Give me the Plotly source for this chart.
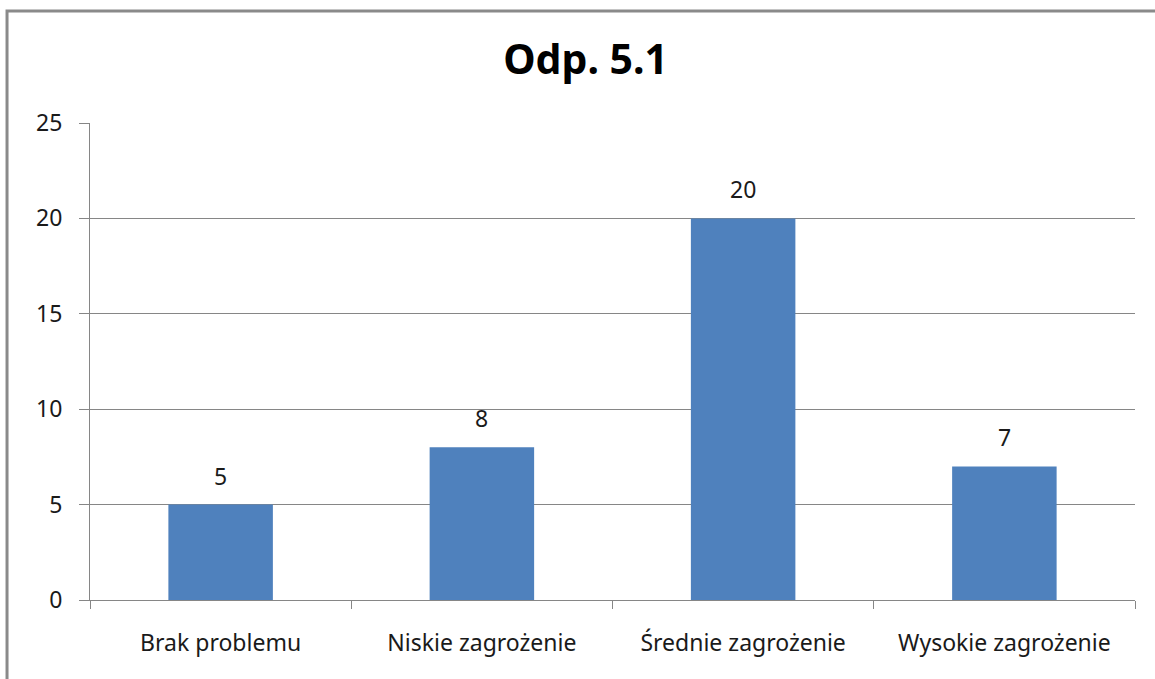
import plotly.graph_objects as go

categories = ["Brak problemu", "Niskie zagrożenie", "Średnie zagrożenie", "Wysokie zagrożenie"]
values = [5, 8, 20, 7]
y_ticks = [0, 5, 10, 15, 20, 25]

fig = go.Figure()
fig.add_trace(go.Bar(
    x=categories,
    y=values,
    marker=dict(color="#4F81BD", line=dict(width=0)),
    hoverinfo="x+y",
))

# value labels above bars
for cat, val in zip(categories, values):
    fig.add_annotation(
        x=cat, y=val, text=str(val),
        showarrow=False, yanchor="bottom", yshift=11,
        font=dict(size=23, color="#1a1a1a"),
    )

# chart frame (left and top edges only are visible)
fig.add_shape(
    type="path",
    xref="paper", yref="paper",
    path="M -0.0794 -0.2 L -0.0794 1.2348 L 1.05 1.2348",
    line=dict(color="#8a8a8a", width=3),
)

fig.update_layout(
    width=1155,
    height=679,
    margin=dict(l=90, r=20, t=123, b=79),
    paper_bgcolor="white",
    plot_bgcolor="white",
    font=dict(family="Noto Sans", size=23, color="#1a1a1a"),
    title=dict(
        text="<b>Odp. 5.1</b>",
        x=0.507, xanchor="center",
        y=0.912, yanchor="middle",
        font=dict(size=41, color="black"),
    ),
    bargap=0.6,
    showlegend=False,
)
fig.update_xaxes(
    showline=True, linecolor="#868686", linewidth=1,
    ticks="outside", ticklen=8, tickcolor="#868686",
    tickson="boundaries",
    showgrid=False,
    ticklabelstandoff=22,
    tickfont=dict(size=23),
)
fig.update_yaxes(
    range=[0, 25],
    tickvals=y_ticks,
    showline=True, linecolor="#868686", linewidth=1,
    ticks="outside", ticklen=10, tickcolor="#868686",
    showgrid=True, gridcolor="#868686", gridwidth=1,
    zeroline=False,
    ticklabelstandoff=12,
    tickfont=dict(size=23),
)

fig.write_html(
    "out.html",
    config={"displayModeBar": False},
    post_script="document.body.style.margin='0';",
)
